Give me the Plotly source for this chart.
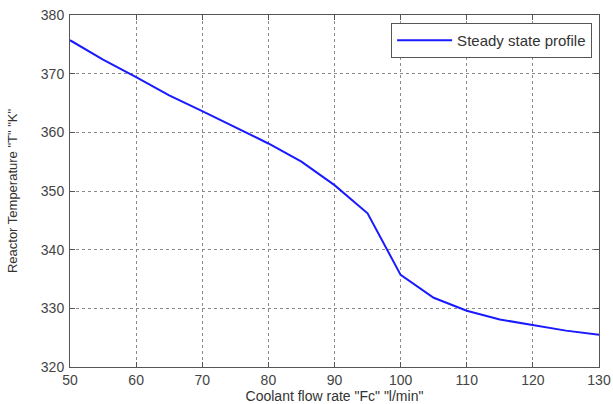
import plotly.graph_objects as go

flow_rate = [50, 55, 60, 65, 70, 75, 80, 85, 90, 95, 100, 105, 110, 115, 120, 125, 130]
temperature = [375.7, 372.4, 369.4, 366.3, 363.6, 360.9, 358.1, 355.0, 351.0, 346.2,
               335.7, 331.8, 329.6, 328.1, 327.1, 326.2, 325.5]

x_ticks = [50, 60, 70, 80, 90, 100, 110, 120, 130]
y_ticks = [320, 330, 340, 350, 360, 370, 380]

fig = go.Figure()
fig.add_trace(go.Scatter(
    x=flow_rate, y=temperature, mode="lines",
    line=dict(color="#1a1aff", width=2),
    name="Steady state profile",
))

axis_common = dict(
    showline=True, linecolor="#555555", linewidth=1, mirror="allticks",
    ticks="inside", ticklen=5, tickcolor="#555555",
    showgrid=True, gridcolor="#8a8a8a", griddash="dot", gridwidth=1,
    zeroline=False, automargin=False,
    tickfont=dict(family="Liberation Sans, Arial", size=14, color="#444444"),
)

fig.update_xaxes(range=[50, 130], tickvals=x_ticks, ticklabelstandoff=0,
                 title=dict(text='Coolant flow rate "Fc" "l/min"', standoff=1,
                            font=dict(family="Liberation Sans, Arial", size=14, color="#333333")),
                 **axis_common)
fig.update_yaxes(range=[320, 380], tickvals=y_ticks, ticklabelstandoff=2,
                 title=dict(text='Reactor Temperature "T" "K"', standoff=20,
                            font=dict(family="Liberation Sans, Arial", size=13, color="#333333")),
                 **axis_common)

fig.update_layout(
    width=613, height=404,
    margin=dict(l=70, r=14, t=15, b=37),
    paper_bgcolor="white", plot_bgcolor="white",
    showlegend=True,
    legend=dict(x=0.987, y=0.977, xanchor="right", yanchor="top",
                bgcolor="white", bordercolor="#555555", borderwidth=1,
                itemwidth=55,
                font=dict(family="Liberation Sans, Arial", size=15, color="#333333")),
)

fig.write_html("out.html")
